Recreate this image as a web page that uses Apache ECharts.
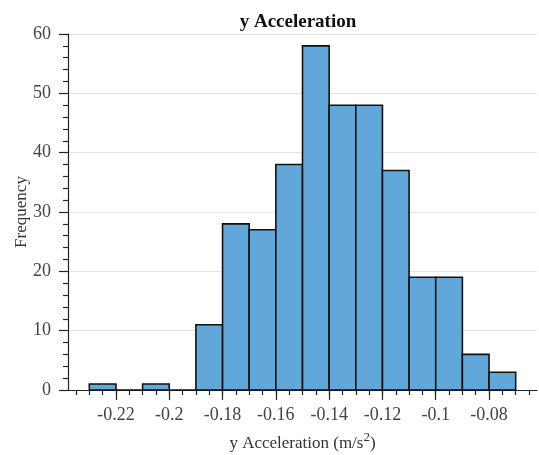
<!DOCTYPE html>
<html>
<head>
<meta charset="utf-8">
<script src="https://cdn.jsdelivr.net/npm/echarts@6/dist/echarts.min.js"></script>
<style>html,body{margin:0;padding:0;background:#fff}#c{width:539px;height:455px}</style>
</head>
<body>
<div id="c"></div>
<script>
const binEdges = [-0.23, -0.22, -0.21, -0.20, -0.19, -0.18, -0.17, -0.16, -0.15, -0.14, -0.13, -0.12, -0.11, -0.10, -0.09, -0.08, -0.07];
const counts = [1, 0, 1, 0, 11, 28, 27, 38, 58, 48, 48, 37, 19, 19, 6, 3];
const xTickLabels = [-0.22, -0.2, -0.18, -0.16, -0.14, -0.12, -0.1, -0.08];
const xMinorTicks = [-0.235, -0.23, -0.225, -0.22, -0.215, -0.21, -0.205, -0.2, -0.195, -0.19, -0.185, -0.18, -0.175, -0.17, -0.165, -0.16, -0.155, -0.15, -0.145, -0.14, -0.135, -0.13, -0.125, -0.12, -0.115, -0.11, -0.105, -0.1, -0.095, -0.09, -0.085, -0.08, -0.075, -0.07, -0.065];
const yTicks = [0, 10, 20, 30, 40, 50, 60];

const data = counts.map((c, i) => [binEdges[i], binEdges[i + 1], c]);
const font = 'Liberation Serif';
const chart = echarts.init(document.getElementById('c'));
chart.setOption({
  animation: false,
  title: {
    text: 'y Acceleration', left: 293, textAlign: 'center', top: 8,
    textStyle: { fontFamily: font, fontSize: 19, fontWeight: 'bold', color: '#111' }
  },
  grid: { left: 68, right: 2, top: 34, bottom: 65, outerBoundsMode: 'none', containLabel: false },
  xAxis: [{
    type: 'value', min: -0.238, max: -0.062,
    name: 'y Acceleration (m/s{sup|2})', nameLocation: 'middle', nameGap: 41, nameMoveOverlap: false,
    nameTextStyle: { fontFamily: font, fontSize: 17, color: '#333',
      rich: { sup: { fontFamily: font, fontSize: 13, color: '#333', verticalAlign: 'bottom', padding: [0, 0, 12, 0] } } },
    axisLine: { show: true, lineStyle: { color: '#222', width: 1.2 } },
    axisTick: { show: true, customValues: xTickLabels, length: 10, lineStyle: { color: '#222', width: 1.2 } },
    axisLabel: { customValues: xTickLabels, margin: 16, fontFamily: font, fontSize: 18, color: '#444',
      formatter: v => String(+v.toFixed(3)) },
    splitLine: { show: false }
  }, {
    type: 'value', min: -0.238, max: -0.062, position: 'bottom',
    axisLine: { show: false },
    axisTick: { show: true, customValues: xMinorTicks, length: 5, lineStyle: { color: '#222', width: 1.2 } },
    axisLabel: { show: false },
    splitLine: { show: false }
  }],
  yAxis: {
    type: 'value', min: 0, max: 60, interval: 10,
    name: 'Frequency', nameLocation: 'middle', nameGap: 38, nameMoveOverlap: false,
    nameTextStyle: { fontFamily: font, fontSize: 17, color: '#333' },
    axisLine: { show: true, lineStyle: { color: '#222', width: 1.2 } },
    axisTick: { show: true, length: 9, lineStyle: { color: '#222', width: 1.2 } },
    minorTick: { show: true, splitNumber: 5, length: 5, lineStyle: { color: '#222', width: 1.2 } },
    axisLabel: { margin: 17, fontFamily: font, fontSize: 18, color: '#444' },
    splitLine: { show: true, lineStyle: { color: '#e2e2e2', width: 1 } }
  },
  series: [{
    type: 'custom', xAxisIndex: 0, yAxisIndex: 0,
    data: data,
    encode: { x: [0, 1], y: 2 },
    renderItem: function (params, api) {
      const p0 = api.coord([api.value(0), 0]);
      const p1 = api.coord([api.value(1), api.value(2)]);
      return {
        type: 'rect',
        shape: { x: p0[0], y: p1[1], width: p1[0] - p0[0], height: p0[1] - p1[1] },
        style: { fill: '#62a7d9', stroke: '#111', lineWidth: 1.6 }
      };
    }
  }]
});
</script>
</body>
</html>
